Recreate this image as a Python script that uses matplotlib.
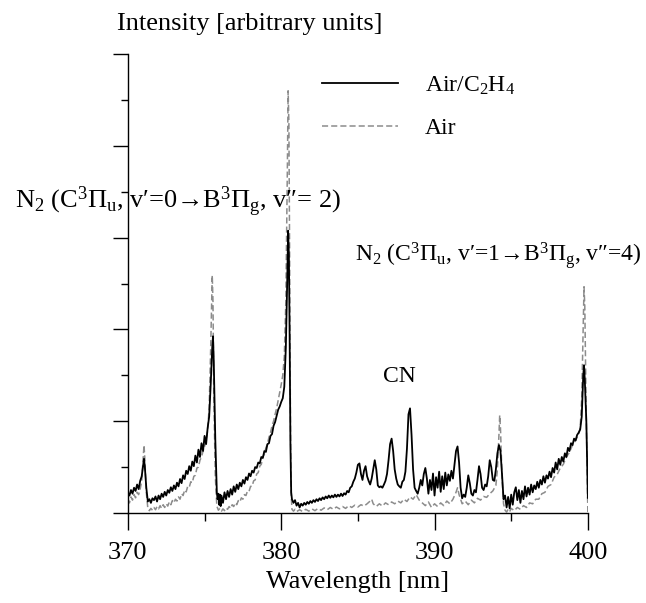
import numpy as np
import matplotlib
matplotlib.use("Agg")
import matplotlib.pyplot as plt
from matplotlib.ticker import MultipleLocator

params = {
    'font.family': ['Liberation Serif', 'DejaVu Serif'],
    'font.size': 19,
    'mathtext.fontset': 'custom',
    'mathtext.rm': 'Liberation Serif',
    'mathtext.it': 'Liberation Serif:italic',
    'mathtext.bf': 'Liberation Serif:bold',
    'mathtext.default': 'rm',
}
plt.rcParams.update(params)

# Air/C2H4 spectrum (wavelength nm, intensity a.u.)
wl_mix = [
    370.0, 370.1, 370.2, 370.3, 370.4, 370.5, 370.6, 370.7, 370.8, 370.9,
    371.0, 371.05, 371.1, 371.2, 371.3, 371.4, 371.5, 371.6, 371.7, 371.8,
    371.9, 372.0, 372.1, 372.2, 372.3, 372.4, 372.5, 372.6, 372.7, 372.8,
    372.9, 373.0, 373.1, 373.2, 373.3, 373.4, 373.5, 373.6, 373.7, 373.8,
    373.9, 374.0, 374.1, 374.2, 374.3, 374.4, 374.5, 374.6, 374.7, 374.8,
    374.9, 375.0, 375.1, 375.2, 375.3, 375.4, 375.5, 375.55, 375.6, 375.7,
    375.8, 375.85, 375.9, 375.95, 376.0, 376.05, 376.1, 376.2, 376.3, 376.4,
    376.5, 376.6, 376.7, 376.8, 376.9, 377.0, 377.1, 377.2, 377.3, 377.4,
    377.5, 377.6, 377.7, 377.8, 377.9, 378.0, 378.1, 378.2, 378.3, 378.4,
    378.5, 378.6, 378.7, 378.8, 378.9, 379.0, 379.1, 379.2, 379.3, 379.4,
    379.5, 379.6, 379.7, 379.8, 379.9, 380.0, 380.1, 380.2, 380.3, 380.4,
    380.45, 380.5, 380.55, 380.6, 380.65, 380.7, 380.8, 380.9, 381.0, 381.1,
    381.2, 381.3, 381.4, 381.5, 381.6, 381.7, 381.8, 381.9, 382.0, 382.1,
    382.2, 382.3, 382.4, 382.5, 382.6, 382.7, 382.8, 382.9, 383.0, 383.1,
    383.2, 383.3, 383.4, 383.5, 383.6, 383.7, 383.8, 383.9, 384.0, 384.1,
    384.2, 384.3, 384.4, 384.5, 384.6, 384.7, 384.8, 384.9, 385.0, 385.1,
    385.2, 385.3, 385.4, 385.5, 385.6, 385.7, 385.8, 385.9, 386.0, 386.1,
    386.2, 386.3, 386.4, 386.5, 386.6, 386.7, 386.8, 386.9, 387.0, 387.1,
    387.2, 387.3, 387.4, 387.5, 387.6, 387.7, 387.8, 387.9, 388.0, 388.1,
    388.2, 388.3, 388.4, 388.5, 388.6, 388.7, 388.8, 388.9, 389.0, 389.1,
    389.2, 389.3, 389.4, 389.5, 389.6, 389.7, 389.8, 389.9, 390.0, 390.1,
    390.2, 390.3, 390.4, 390.5, 390.6, 390.7, 390.8, 390.9, 391.0, 391.1,
    391.2, 391.3, 391.4, 391.5, 391.6, 391.7, 391.8, 391.9, 392.0, 392.1,
    392.2, 392.3, 392.4, 392.5, 392.6, 392.7, 392.8, 392.9, 393.0, 393.1,
    393.2, 393.3, 393.4, 393.5, 393.6, 393.7, 393.8, 393.9, 394.0, 394.1,
    394.2, 394.3, 394.4, 394.5, 394.6, 394.7, 394.8, 394.9, 395.0, 395.1,
    395.2, 395.3, 395.4, 395.5, 395.6, 395.7, 395.8, 395.9, 396.0, 396.1,
    396.2, 396.3, 396.4, 396.5, 396.6, 396.7, 396.8, 396.9, 397.0, 397.1,
    397.2, 397.3, 397.4, 397.5, 397.6, 397.7, 397.8, 397.9, 398.0, 398.1,
    398.2, 398.3, 398.4, 398.5, 398.6, 398.7, 398.8, 398.9, 399.0, 399.1,
    399.2, 399.3, 399.4, 399.5, 399.6, 399.7, 399.75, 399.8, 399.9, 400.0,
]
int_mix = [
    0.45, 0.38, 0.50, 0.42, 0.55, 0.48, 0.62, 0.52, 0.70, 0.80,
    1.05, 1.18, 1.02, 0.55, 0.25, 0.30, 0.22, 0.32, 0.28, 0.36,
    0.25, 0.38, 0.30, 0.42, 0.35, 0.46, 0.38, 0.50, 0.44, 0.56,
    0.48, 0.60, 0.52, 0.66, 0.58, 0.74, 0.65, 0.82, 0.74, 0.92,
    0.85, 1.02, 0.92, 1.12, 1.02, 1.25, 1.10, 1.38, 1.22, 1.52,
    1.35, 1.68, 1.50, 1.85, 2.10, 2.80, 3.60, 3.85, 3.30, 1.60,
    0.45, 0.30, 0.42, 0.18, 0.40, 0.15, 0.38, 0.22, 0.45, 0.30,
    0.48, 0.35, 0.52, 0.40, 0.58, 0.46, 0.62, 0.52, 0.66, 0.58,
    0.72, 0.64, 0.78, 0.72, 0.86, 0.80, 0.92, 0.88, 1.00, 0.98,
    1.10, 1.08, 1.22, 1.20, 1.35, 1.33, 1.50, 1.52, 1.68, 1.72,
    1.90, 1.98, 2.12, 2.25, 2.32, 2.42, 2.50, 2.75, 3.60, 5.20,
    6.15, 5.60, 3.80, 1.50, 0.45, 0.30, 0.22, 0.28, 0.16, 0.22,
    0.12, 0.20, 0.16, 0.22, 0.18, 0.24, 0.20, 0.26, 0.22, 0.28,
    0.24, 0.30, 0.26, 0.32, 0.28, 0.34, 0.30, 0.36, 0.32, 0.38,
    0.33, 0.38, 0.34, 0.40, 0.35, 0.40, 0.36, 0.42, 0.37, 0.43,
    0.40, 0.48, 0.45, 0.55, 0.58, 0.68, 0.75, 0.88, 1.05, 1.08,
    0.85, 0.72, 0.92, 1.02, 0.80, 0.70, 0.62, 0.75, 0.95, 1.15,
    0.95, 0.60, 0.56, 0.58, 0.55, 0.62, 0.70, 0.85, 1.15, 1.50,
    1.62, 1.35, 0.95, 0.75, 0.62, 0.58, 0.55, 0.68, 0.72, 0.90,
    1.40, 2.15, 2.28, 1.70, 0.95, 0.55, 0.48, 0.42, 0.55, 0.72,
    0.60, 0.85, 0.98, 0.75, 0.42, 0.72, 0.50, 0.86, 0.38, 0.78,
    0.55, 0.90, 0.46, 0.80, 0.52, 0.88, 0.60, 0.84, 0.70, 0.92,
    0.75, 1.05, 1.35, 1.45, 1.10, 0.55, 0.32, 0.40, 0.35, 0.55,
    0.82, 0.65, 0.42, 0.38, 0.50, 0.45, 0.72, 1.02, 0.85, 0.55,
    0.50, 0.62, 0.58, 0.80, 1.15, 1.00, 0.72, 0.70, 0.95, 1.30,
    1.48, 1.35, 0.85, 0.30, 0.38, 0.12, 0.35, 0.10, 0.40, 0.18,
    0.45, 0.56, 0.28, 0.50, 0.22, 0.48, 0.30, 0.58, 0.36, 0.55,
    0.40, 0.62, 0.45, 0.60, 0.52, 0.68, 0.55, 0.72, 0.62, 0.80,
    0.66, 0.82, 0.75, 0.90, 0.78, 0.98, 0.88, 1.10, 0.95, 1.18,
    1.05, 1.22, 1.12, 1.30, 1.22, 1.42, 1.35, 1.52, 1.48, 1.62,
    1.58, 1.70, 1.75, 1.82, 2.10, 3.00, 3.22, 2.90, 2.00, 0.33,
]

# Air spectrum
wl_air = [
    370.0, 370.1, 370.2, 370.3, 370.4, 370.5, 370.6, 370.7, 370.8, 370.9,
    371.0, 371.05, 371.1, 371.2, 371.3, 371.4, 371.5, 371.6, 371.7, 371.8,
    371.9, 372.0, 372.1, 372.2, 372.3, 372.4, 372.5, 372.6, 372.7, 372.8,
    372.9, 373.0, 373.1, 373.2, 373.3, 373.4, 373.5, 373.6, 373.7, 373.8,
    373.9, 374.0, 374.1, 374.2, 374.3, 374.4, 374.5, 374.6, 374.7, 374.8,
    374.9, 375.0, 375.1, 375.2, 375.3, 375.4, 375.5, 375.55, 375.6, 375.7,
    375.8, 375.9, 376.0, 376.1, 376.2, 376.3, 376.4, 376.5, 376.6, 376.7,
    376.8, 376.9, 377.0, 377.1, 377.2, 377.3, 377.4, 377.5, 377.6, 377.7,
    377.8, 377.9, 378.0, 378.1, 378.2, 378.3, 378.4, 378.5, 378.6, 378.7,
    378.8, 378.9, 379.0, 379.1, 379.2, 379.3, 379.4, 379.5, 379.6, 379.7,
    379.8, 379.9, 380.0, 380.1, 380.2, 380.3, 380.4, 380.45, 380.5, 380.55,
    380.6, 380.65, 380.7, 380.8, 380.9, 381.0, 381.2, 381.4, 381.6, 381.8,
    382.0, 382.2, 382.4, 382.6, 382.8, 383.0, 383.2, 383.4, 383.6, 383.8,
    384.0, 384.2, 384.4, 384.6, 384.8, 385.0, 385.2, 385.4, 385.6, 385.8,
    385.9, 386.0, 386.2, 386.4, 386.6, 386.8, 387.0, 387.2, 387.4, 387.6,
    387.8, 388.0, 388.2, 388.4, 388.6, 388.8, 389.0, 389.2, 389.4, 389.6,
    389.8, 390.0, 390.2, 390.4, 390.6, 390.8, 391.0, 391.2, 391.4, 391.5,
    391.6, 391.8, 392.0, 392.2, 392.4, 392.6, 392.8, 393.0, 393.2, 393.4,
    393.6, 393.8, 394.0, 394.1, 394.2, 394.25, 394.3, 394.4, 394.5, 394.6,
    394.7, 394.8, 394.9, 395.0, 395.2, 395.4, 395.6, 395.8, 396.0, 396.2,
    396.4, 396.6, 396.8, 397.0, 397.2, 397.4, 397.6, 397.8, 398.0, 398.2,
    398.4, 398.6, 398.8, 399.0, 399.2, 399.4, 399.5, 399.6, 399.7, 399.75,
    399.8, 399.9, 400.0,
]
int_air = [
    0.30, 0.22, 0.35, 0.28, 0.40, 0.33, 0.45, 0.40, 0.52, 0.70,
    1.20, 1.48, 1.20, 0.45, 0.10, 0.05, 0.10, 0.06, 0.12, 0.07,
    0.14, 0.09, 0.16, 0.10, 0.18, 0.12, 0.20, 0.15, 0.24, 0.18,
    0.27, 0.22, 0.30, 0.26, 0.35, 0.30, 0.42, 0.38, 0.50, 0.46,
    0.58, 0.56, 0.68, 0.66, 0.80, 0.82, 0.98, 1.00, 1.15, 1.22,
    1.35, 1.45, 1.60, 1.80, 2.30, 3.60, 5.18, 4.60, 2.60, 0.80,
    0.15, 0.06, 0.10, 0.04, 0.09, 0.05, 0.11, 0.08, 0.14, 0.10,
    0.18, 0.14, 0.22, 0.18, 0.27, 0.24, 0.33, 0.30, 0.40, 0.38,
    0.48, 0.47, 0.58, 0.58, 0.70, 0.72, 0.85, 0.88, 1.02, 1.06,
    1.22, 1.28, 1.42, 1.50, 1.65, 1.75, 1.90, 2.00, 2.15, 2.28,
    2.45, 2.62, 2.80, 3.00, 3.40, 4.60, 7.50, 9.20, 8.50, 5.50,
    2.00, 0.40, 0.08, 0.04, 0.08, 0.03, 0.07, 0.03, 0.08, 0.04,
    0.09, 0.05, 0.10, 0.06, 0.11, 0.07, 0.12, 0.08, 0.13, 0.09,
    0.14, 0.10, 0.16, 0.12, 0.17, 0.13, 0.18, 0.15, 0.20, 0.26,
    0.30, 0.20, 0.14, 0.20, 0.15, 0.22, 0.18, 0.24, 0.20, 0.26,
    0.22, 0.30, 0.25, 0.35, 0.30, 0.40, 0.28, 0.22, 0.16, 0.24,
    0.12, 0.20, 0.14, 0.22, 0.16, 0.26, 0.20, 0.30, 0.45, 0.55,
    0.40, 0.20, 0.26, 0.18, 0.28, 0.22, 0.32, 0.28, 0.36, 0.34,
    0.42, 0.48, 0.60, 0.95, 1.70, 2.13, 1.85, 0.80, 0.20, 0.06,
    0.02, 0.08, 0.03, 0.10, 0.05, 0.12, 0.08, 0.16, 0.12, 0.22,
    0.20, 0.30, 0.30, 0.42, 0.45, 0.58, 0.62, 0.78, 0.84, 0.98,
    1.06, 1.22, 1.32, 1.48, 1.58, 1.72, 1.85, 2.50, 4.20, 4.93,
    4.50, 2.00, 0.00,
]

fig = plt.figure(figsize=(6.46, 6.03), dpi=100)
ax = fig.add_axes([0.198, 0.1493, 0.712, 0.761])

ax.plot(wl_mix, int_mix, color='black', lw=1.3, label='Air/C$_2$H$_4$', zorder=3)
ax.plot(wl_air, int_air, color='#8c8c8c', lw=1.1, dashes=(4, 2), label='Air', zorder=2)

ax.set_xlim(370, 400)
ax.set_ylim(0, 10)
ax.xaxis.set_major_locator(MultipleLocator(10))
ax.xaxis.set_minor_locator(MultipleLocator(5))
ax.yaxis.set_major_locator(MultipleLocator(2))
ax.yaxis.set_minor_locator(MultipleLocator(1))
ax.tick_params(axis='x', which='major', direction='out', length=12, width=1, pad=9)
ax.tick_params(axis='x', which='minor', direction='out', length=6, width=1)
ax.tick_params(axis='y', which='major', direction='out', length=11, width=1)
ax.tick_params(axis='y', which='minor', direction='out', length=5, width=1)
ax.set_yticklabels([])
for s in ['top', 'right']:
    ax.spines[s].set_visible(False)
for s in ['left', 'bottom']:
    ax.spines[s].set_linewidth(1)

ax.set_xlabel('Wavelength [nm]', labelpad=5)
ax.text(-0.024, 1.052, 'Intensity [arbitrary units]', transform=ax.transAxes,
        ha='left', va='baseline')

ax.text(-0.2457, 0.6645, 'N$_2$ (C$^3$Π$_{\\rm u}$, v\u2032=0\u2192B$^3$Π$_{\\rm g}$, v\u2033= 2)',
        transform=ax.transAxes, ha='left', va='baseline')
ax.text(0.4935, 0.549, 'N$_2$ (C$^3$Π$_{\\rm u}$, v\u2032=1\u2192B$^3$Π$_{\\rm g}$, v\u2033=4)',
        transform=ax.transAxes, ha='left', va='baseline', fontsize=17)
ax.text(0.554, 0.2854, 'CN', transform=ax.transAxes, ha='left', va='baseline', fontsize=17)

ax.legend(loc='upper left', bbox_to_anchor=(0.387, 0.992), frameon=False, fontsize=17,
          handlelength=3.2, handletextpad=1.15, labelspacing=0.9, borderaxespad=0.3)

fig.savefig('out.png', dpi=100)
